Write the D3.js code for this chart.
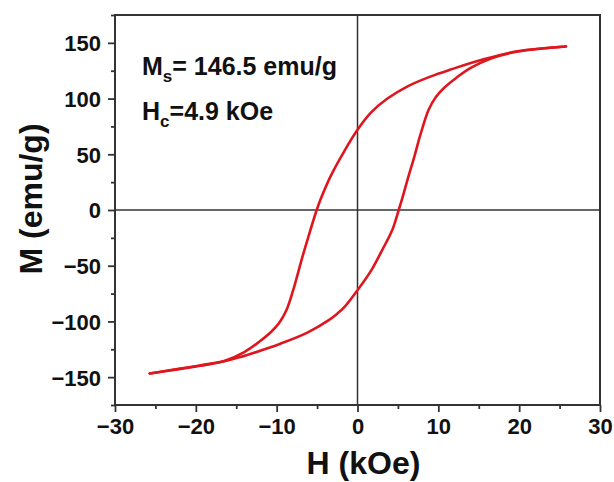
<!DOCTYPE html>
<html>
<head>
<meta charset="utf-8">
<script src="https://cdn.jsdelivr.net/npm/d3@7"></script>
<style>
  body { margin: 0; background: #fff; }
  text { font-family: "Liberation Sans", Arial, sans-serif; font-weight: bold; fill: #111; }
</style>
</head>
<body>
<svg id="chart" width="614" height="482"></svg>
<script>
// descending branch: from +saturation down to -saturation
var descH = [25.8, 19.8, 15.7, 11.5, 9, 6.2, 3.7, 1.6, 0, -1.7, -3.35, -4.6, -5.05, -6.2, -6.85, -7.8, -8.8, -9.7, -10.7, -12.2, -14, -16.5, -19.5, -25.7];
var descM = [146.7, 142.4, 135.5, 126, 119.7, 111, 100, 87, 72, 52, 30, 9, 0, -27, -43, -68, -90, -101.5, -109.5, -118.5, -127.5, -135.5, -139.8, -146.7];
// ascending branch: from -saturation up to +saturation
var ascH = [-25.7, -19.5, -16.5, -14.5, -11.5, -9.55, -6.2, -3.7, -2.5, -1.6, 0, 1.8, 3.05, 4.3, 5.1, 5.6, 6.3, 7.0, 7.8, 8.8, 9.7, 10.7, 12.2, 14.0, 16.5, 19.8, 25.8];
var ascM = [-146.7, -139.5, -135.8, -132, -125, -120, -110, -99.5, -93, -87, -72, -53, -36, -18, 0, 12, 30, 47, 68, 90, 101.5, 109.5, 118.5, 127.5, 136, 142.2, 146.7];

var xTicks = [-30, -20, -10, 0, 10, 20, 30];
var yTicks = [-150, -100, -50, 0, 50, 100, 150];

var margin = {left: 115, top: 15, right: 14, bottom: 77},
  width = 614 - margin.left - margin.right,
  height = 482 - margin.top - margin.bottom;

var svg = d3.select("#chart"),
  g = svg.append("g").attr("transform", "translate(" + margin.left + "," + margin.top + ")");

var x = d3.scaleLinear().domain([-30, 30]).range([0, width]);
var y = d3.scaleLinear().domain([-175, 175]).range([height, 0]);

var axisColor = "#333";

// minor ticks
g.append("g")
  .attr("transform", "translate(0," + height + ")")
  .call(d3.axisBottom(x).tickValues(d3.range(-25, 30, 10)).tickSize(4).tickFormat(""))
  .call(function (a) { a.select(".domain").remove(); });
g.append("g")
  .call(d3.axisLeft(y).tickValues(d3.range(-175, 176, 50)).tickSize(4).tickFormat(""))
  .call(function (a) { a.select(".domain").remove(); });

// major ticks + labels
var xAxis = g.append("g")
  .attr("transform", "translate(0," + height + ")")
  .call(d3.axisBottom(x).tickValues(xTicks).tickSize(7).tickPadding(6)
    .tickFormat(function (d) { return d < 0 ? "\u2212" + (-d) : d; }));
var yAxis = g.append("g")
  .call(d3.axisLeft(y).tickValues(yTicks).tickSize(7).tickPadding(7)
    .tickFormat(function (d) { return d < 0 ? "\u2212" + (-d) : d; }));

g.selectAll(".tick line").attr("stroke", axisColor).attr("stroke-width", 1.8);
g.selectAll(".domain").remove();
xAxis.selectAll("text").style("font-size", "22px").attr("fill", "#111");
yAxis.selectAll("text").style("font-size", "22px").attr("fill", "#111").attr("dy", "0.36em");

// zero lines
g.append("line").attr("x1", x(0)).attr("x2", x(0)).attr("y1", 0).attr("y2", height)
  .attr("stroke", axisColor).attr("stroke-width", 1.5);
g.append("line").attr("x1", 0).attr("x2", width).attr("y1", y(0)).attr("y2", y(0))
  .attr("stroke", axisColor).attr("stroke-width", 1.5);

// frame
g.append("rect").attr("width", width).attr("height", height)
  .attr("fill", "none").attr("stroke", axisColor).attr("stroke-width", 2);

// loop
var line = d3.line()
  .x(function (d) { return x(d[0]); })
  .y(function (d) { return y(d[1]); })
  .curve(d3.curveCatmullRom.alpha(0.5));

var branches = [d3.zip(descH, descM), d3.zip(ascH, ascM)];
g.selectAll("path.loop")
  .data(branches)
  .enter().append("path")
  .attr("class", "loop")
  .attr("d", line)
  .attr("fill", "none")
  .attr("stroke", "#e0161e")
  .attr("stroke-width", 2.6)
  .attr("stroke-linecap", "round");

// annotations
var ms = g.append("text").attr("x", 27).attr("y", 60).style("font-size", "25px");
ms.append("tspan").text("M");
ms.append("tspan").text("s").style("font-size", "17px").attr("dy", 7);
ms.append("tspan").text("= 146.5 emu/g").attr("dy", -7);

var hc = g.append("text").attr("x", 27).attr("y", 105).style("font-size", "25px");
hc.append("tspan").text("H");
hc.append("tspan").text("c").style("font-size", "17px").attr("dy", 7);
hc.append("tspan").text("=4.9 kOe").attr("dy", -7);

// axis titles
svg.append("text")
  .attr("x", margin.left + x(0) + 6).attr("y", 474)
  .attr("text-anchor", "middle").style("font-size", "32px")
  .text("H (kOe)");
svg.append("text")
  .attr("transform", "translate(42,199) rotate(-90)")
  .attr("text-anchor", "middle").style("font-size", "32px")
  .text("M (emu/g)");
</script>
</body>
</html>
